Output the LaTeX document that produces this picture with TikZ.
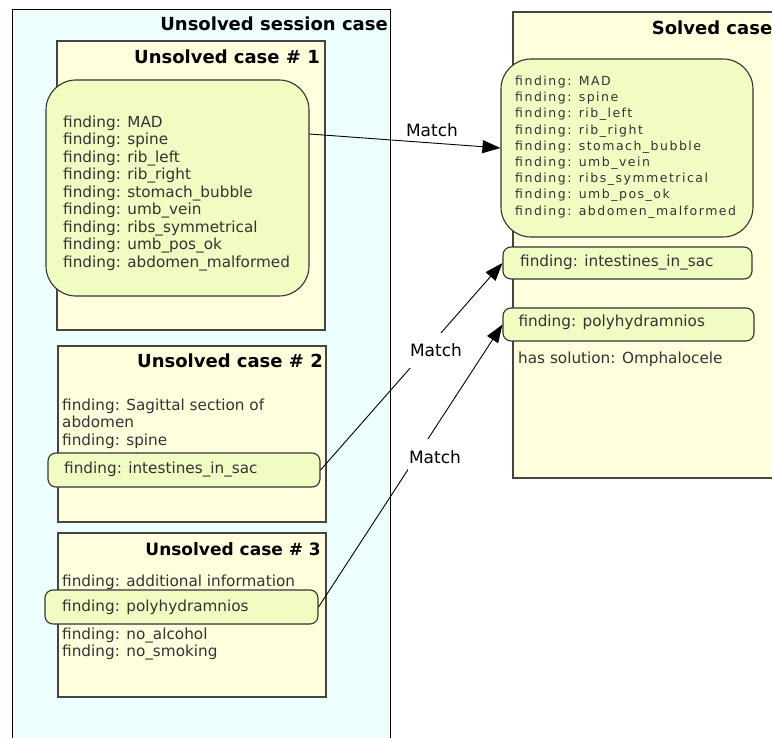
\documentclass[tikz,border=0pt]{standalone}
\usepackage{fontspec}
\setmainfont{DejaVu Sans}
\usetikzlibrary{arrows.meta}
\definecolor{sessfill}{HTML}{EEFFFF}
\definecolor{casefill}{HTML}{FFFFDD}
\definecolor{findfill}{HTML}{F1FCC3}
\definecolor{txtgray}{HTML}{333333}
\definecolor{bordergray}{HTML}{444444}
\tikzset{
  casebox/.style={draw=bordergray, line width=1.3pt, fill=casefill, rectangle, inner sep=0pt},
  sessbox/.style={draw=black, line width=1pt, fill=sessfill, rectangle, inner sep=0pt},
  findbox/.style={draw=txtgray, line width=1.1pt, fill=findfill, rounded corners=#1, rectangle, inner sep=0pt},
  findbox/.default=8pt,
  ttl/.style={font=\fontsize{18}{20}\selectfont\bfseries, text=black, inner sep=0pt, anchor=base east},
  txt/.style={font=\fontsize{15.25}{17.5}\selectfont, text=txtgray, inner sep=0pt, anchor=base west},
  stxt/.style={font=\fontsize{12.5}{16}\selectfont\addfontfeature{LetterSpace=12}, text=txtgray, inner sep=0pt, anchor=base west},
  matchlbl/.style={font=\fontsize{17}{19}\selectfont, text=black, anchor=base},
  gaplbl/.style={matchlbl, fill=white, inner xsep=1.5pt, inner ysep=11pt},
  conn/.style={draw=black, line width=0.9pt, -{Triangle[length=18pt,width=13pt]}},
}
\begin{document}
\begin{tikzpicture}[x=1pt,y=-1pt]
\useasboundingbox (0,0) rectangle (772,738);
\clip (0,0) rectangle (772,738);
% session
\node[sessbox, minimum width=378pt, minimum height=760pt] (session) at (201,390) {};
\node[ttl] (sesstitle) at (388,30.5) {Unsolved session case};
% case 1
\node[casebox, minimum width=268pt, minimum height=289pt] (case1) at (191,185.5) {};
\node[ttl] (c1title) at (320,64) {Unsolved case \# 1};
\node[findbox=30pt, minimum width=263pt, minimum height=216pt] (r1) at (177.5,188) {};
\foreach \t [count=\i] in {MAD,spine,rib\_left,rib\_right,stomach\_bubble,umb\_vein,ribs\_symmetrical,umb\_pos\_ok,abdomen\_malformed}
  \node[txt] (r1l\i) at (63,{127.5+17.5*(\i-1)}) {finding: \t};
% case 2
\node[casebox, minimum width=268pt, minimum height=176pt] (case2) at (192,434) {};
\node[ttl] (c2title) at (323,368) {Unsolved case \# 2};
\node[txt] (c2a) at (62,410) {finding: Sagittal section of};
\node[txt] (c2b) at (62,427.5) {abdomen};
\node[txt] (c2c) at (62,445) {finding: spine};
\node[findbox, minimum width=272pt, minimum height=34pt] (f2) at (184,470) {};
\node[txt] (f2t) at (64,473.5) {finding: intestines\_in\_sac};
% case 3
\node[casebox, minimum width=268pt, minimum height=164pt] (case3) at (192,615) {};
\node[ttl, font=\fontsize{17}{19}\selectfont\bfseries] (c3title) at (321,555) {Unsolved case \# 3};
\node[txt] (c3a) at (62,586.7) {finding: additional information};
\node[findbox, minimum width=273pt, minimum height=34pt] (f3) at (181.5,607) {};
\node[txt] (f3t) at (62,611) {finding: polyhydramnios};
\node[txt] (c3b) at (62,639.3) {finding: no\_alcohol};
\node[txt] (c3c) at (62,656.8) {finding: no\_smoking};
% solved
\node[casebox, minimum width=290pt, minimum height=466pt] (solved) at (658,245) {};
\node[ttl, anchor=base west] (soltitle) at (651.7,35) {Solved case};
\node[findbox=30pt, minimum width=252pt, minimum height=178pt] (rs) at (627,148) {};
\foreach \t [count=\i] in {MAD,spine,rib\_left,rib\_right,stomach\_bubble,umb\_vein,ribs\_symmetrical,umb\_pos\_ok,abdomen\_malformed}
  \node[stxt] (rsl\i) at (515,{85.5+16.2*(\i-1)}) {finding: \t};
\node[findbox, minimum width=249pt, minimum height=32pt] (s2) at (627.5,263) {};
\node[txt] (s2t) at (520,266.7) {finding: intestines\_in\_sac};
\node[findbox, minimum width=251pt, minimum height=33pt] (s3) at (628.5,324.5) {};
\node[txt] (s3t) at (518.3,327) {finding: polyhydramnios};
\node[txt] (sol) at (518,364) {has solution: Omphalocele};
% connectors
\draw[conn] ([yshift=54pt]r1.east) -- (rs.west);
\node[matchlbl] (m1) at (432,137) {Match};
\draw[conn] (f2.east) -- (s2.west);
\node[gaplbl] (m2) at (436,356.7) {Match};
\draw[conn] (f3.east) -- (s3.west);
\node[gaplbl] (m3) at (435,463.3) {Match};
\end{tikzpicture}
\end{document}
